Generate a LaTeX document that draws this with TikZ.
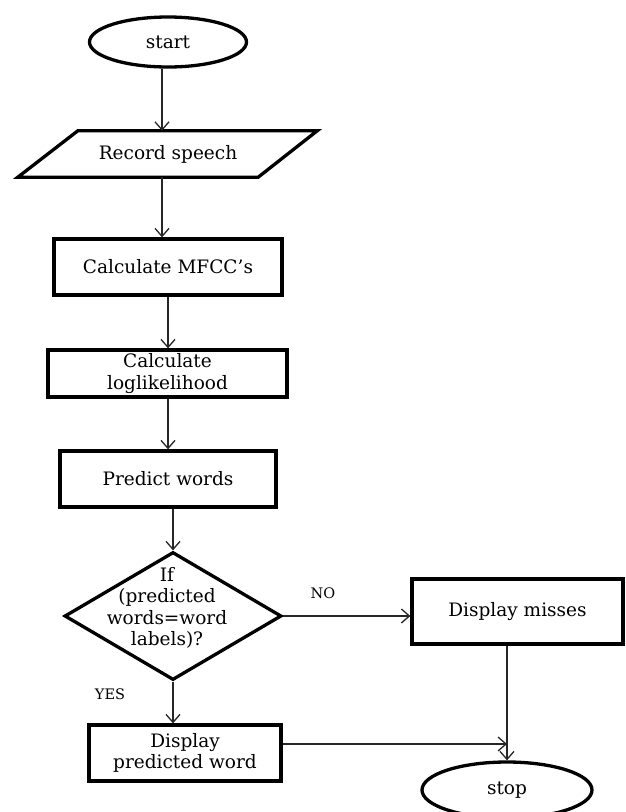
\documentclass[tikz,border=0pt]{standalone}
\usepackage{fontspec}
\setmainfont{DejaVu Serif}
\usetikzlibrary{shapes.geometric,arrows.meta,calc}
\begin{document}
\begin{tikzpicture}[x=1pt,y=-1pt,
  txt/.style={font=\fontsize{18.5}{21.5}\selectfont, align=center, inner sep=0pt},
  box/.style={txt, draw, line width=3.3pt, rectangle},
  term/.style={txt, draw, line width=3.3pt, ellipse},
  flow/.style={draw=black!85, line width=1.3pt, -{Straight Barb[length=8pt,width=14pt,line width=1.3pt]}},
  lbl/.style={font=\fontsize{14.5}{16}\selectfont, inner sep=0pt}]
\useasboundingbox (0,0) rectangle (625,812);

\node[term, minimum width=157pt, minimum height=50pt] (start) at (168,42) {start};
\node[txt, minimum width=240pt, minimum height=46pt] (record) at (168,154) {Record speech};
\draw[line width=3.3pt, line join=miter]
  ($(record.north west)+(30,0)$) -- ($(record.north east)+(29,0)$) --
  ($(record.south east)+(-30,0)$) -- ($(record.south west)+(-30,0)$) -- cycle;
\node[box, minimum width=228pt, minimum height=56pt] (mfcc) at (168,267) {Calculate MFCC’s};
\node[box, minimum width=239pt, minimum height=47pt] (loglik) at (167.5,373.5) {Calculate\\loglikelihood};
\node[box, minimum width=216pt, minimum height=56pt] (predict) at (168,479) {Predict words};
\node[draw, diamond, line width=3.3pt, minimum width=217pt, minimum height=128pt, inner sep=0pt] (dec) at (173,616) {};
\node[txt] (dectext) at (167,608) {If\\(predicted\\words=word\\labels)?};
\node[box, minimum width=211pt, minimum height=65pt] (misses) at (517.5,611.5) {Display misses};
\node[box, minimum width=192pt, minimum height=56pt] (predword) at (185,753) {Display\\predicted word};
\node[term, minimum width=170pt, minimum height=56pt] (stop) at (507,790) {stop};

\node[lbl] (no) at (323,593) {NO};
\node[lbl] (yes) at (110,694) {YES};

\draw[flow] ([xshift=-6pt]start.south) -- ([xshift=-6pt]start.south |- record.north);
\draw[flow] ([xshift=-6pt]record.south) -- ([xshift=-6pt]record.south |- mfcc.north);
\draw[flow] (mfcc.south) -- (mfcc.south |- loglik.north);
\draw[flow] ([xshift=0.5pt]loglik.south) -- ([xshift=0.5pt]loglik.south |- predict.north);
\draw[flow] (predict.south -| dec.north) -- (dec.north);
\draw[flow] (dec.east) -- (dec.east -| misses.west);
\draw[flow] (dec.south) -- (dec.south |- predword.north);
\draw[flow] (misses.south -| stop.north) -- (stop.north);
\draw[flow] ([yshift=9pt]predword.east) -- ([yshift=9pt]predword.east -| stop.north);
\end{tikzpicture}
\end{document}
